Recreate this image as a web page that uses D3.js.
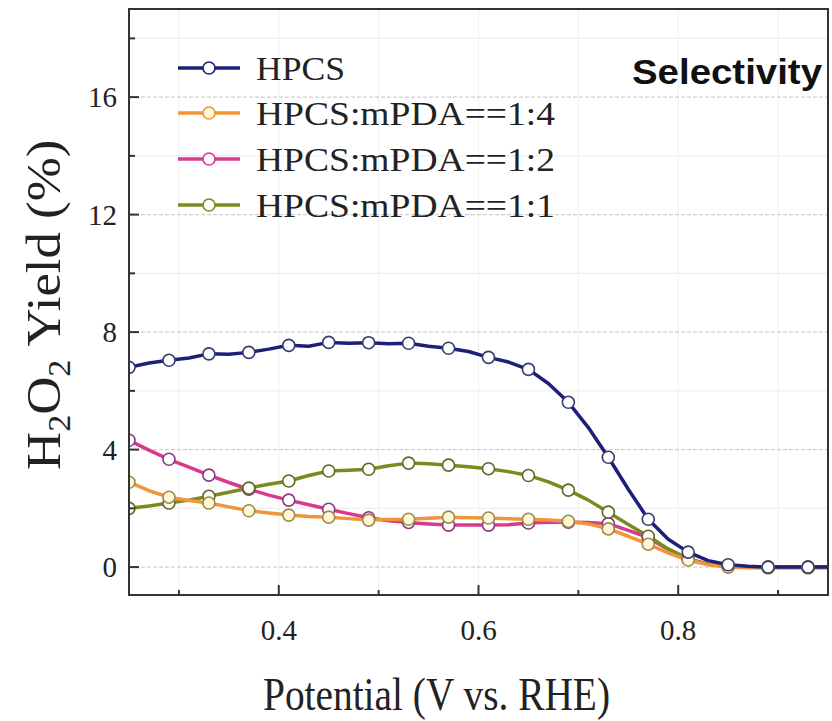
<!DOCTYPE html>
<html><head><meta charset="utf-8">
<script src="https://cdn.jsdelivr.net/npm/d3@7"></script>
<style>html,body{margin:0;padding:0;background:#fff;}svg{display:block;}</style>
</head><body>
<script>
// ---- data ----
const potential = [0.25,0.27,0.29,0.31,0.33,0.35,0.37,0.39,0.41,0.43,0.45,0.47,0.49,0.51,0.53,0.55,0.57,0.59,0.61,0.63,0.65,0.67,0.69,0.71,0.73,0.75,0.77,0.79,0.81,0.83,0.85,0.87,0.89,0.91,0.93,0.95];
const hpcs   = [6.80,6.95,7.04,7.12,7.26,7.25,7.31,7.42,7.55,7.52,7.65,7.62,7.64,7.60,7.62,7.52,7.45,7.34,7.14,6.98,6.73,6.25,5.61,4.75,3.74,2.65,1.63,0.95,0.51,0.22,0.08,0.03,0.00,0.00,0.00,0.00];
const r14    = [2.89,2.60,2.38,2.27,2.18,2.05,1.92,1.84,1.77,1.72,1.70,1.65,1.60,1.62,1.63,1.66,1.70,1.68,1.67,1.65,1.63,1.60,1.56,1.47,1.30,1.05,0.78,0.48,0.24,0.08,0.00,-0.02,-0.03,-0.03,-0.03,-0.03];
const r12    = [4.32,3.98,3.67,3.40,3.13,2.88,2.65,2.45,2.28,2.12,1.97,1.82,1.68,1.58,1.52,1.47,1.43,1.43,1.43,1.44,1.50,1.53,1.53,1.52,1.48,1.25,1.00,0.60,0.28,0.10,0.02,0.00,0.00,0.00,0.00,0.00];
const r11    = [2.00,2.08,2.18,2.28,2.41,2.55,2.69,2.82,2.93,3.12,3.27,3.30,3.33,3.45,3.54,3.52,3.47,3.42,3.35,3.25,3.12,2.90,2.62,2.28,1.87,1.45,1.05,0.62,0.28,0.10,0.03,0.00,0.00,0.00,0.00,0.00];
const seriesNames = ["HPCS","HPCS:mPDA==1:4","HPCS:mPDA==1:2","HPCS:mPDA==1:1"];
const yTicks = [0,4,8,12,16];
const xTicks = [0.4,0.6,0.8];
const xLabel = "Potential (V vs. RHE)";
const tag = "Selectivity";

// ---- styles ----
const styles = [
  {name:seriesNames[0], values:hpcs, color:"#1d1f78", mfill:"#ffffff", mstroke:"#3a3c70", tl:89},
  {name:seriesNames[1], values:r14,  color:"#f0963a", mfill:"#fff8d8", mstroke:"#a08a4a", tl:299},
  {name:seriesNames[2], values:r12,  color:"#d83a8c", mfill:"#ffffff", mstroke:"#8a3a80", tl:299},
  {name:seriesNames[3], values:r11,  color:"#7a8a1c", mfill:"#ffffff", mstroke:"#5d6a20", tl:299}
];
const drawOrder = [2,3,1,0];
const serif = "'Liberation Serif','Times New Roman',serif";

const W=832,H=721;
const svg = d3.select("body").append("svg").attr("width",W).attr("height",H);
const x = d3.scaleLinear().domain([0.25,0.95]).range([129,828]);
const y = d3.scaleLinear().domain([-0.95,19]).range([595,9]);

// grid
const g = svg.append("g");
g.selectAll(".gx").data(d3.range(0.3,0.95,0.1)).join("line")
  .attr("x1",d=>x(d)).attr("x2",d=>x(d)).attr("y1",y(19)).attr("y2",y(-0.95))
  .attr("stroke","#efefef").attr("stroke-width",1);
g.selectAll(".gy").data(d3.range(0,19,2)).join("line")
  .attr("x1",x(0.25)).attr("x2",x(0.95)).attr("y1",d=>y(d)).attr("y2",d=>y(d))
  .attr("stroke",d=>d%4===0?"#cfcfcf":"#efefef").attr("stroke-width",1.2)
  .attr("stroke-dasharray",d=>d%4===0?"4,2":null);

// lines
const line = d3.line().x((d,i)=>x(potential[i])).y(d=>y(d));
const defs = svg.append("defs");
defs.append("clipPath").attr("id","clip").append("rect")
  .attr("x",x(0.25)).attr("y",y(19)).attr("width",x(0.95)-x(0.25)).attr("height",y(-0.95)-y(19));
const plot = svg.append("g").attr("clip-path","url(#clip)");
drawOrder.forEach(k=>{
  const s=styles[k];
  plot.append("path").datum(s.values).attr("d",line)
    .attr("fill","none").attr("stroke",s.color).attr("stroke-width",3.5).attr("stroke-linejoin","round");
});
drawOrder.forEach(k=>{
  const s=styles[k];
  plot.selectAll(null).data(s.values.map((v,i)=>[potential[i],v]).filter((d,i)=>i%2===0 && i<35))
    .join("circle").attr("cx",d=>x(d[0])).attr("cy",d=>y(d[1])).attr("r",6)
    .attr("fill",s.mfill).attr("stroke",s.mstroke).attr("stroke-width",1.6);
});

// frame
const fc="#333";
svg.append("rect").attr("x",x(0.25)).attr("y",y(19)).attr("width",x(0.95)-x(0.25)).attr("height",y(-0.95)-y(19))
  .attr("fill","none").attr("stroke",fc).attr("stroke-width",2);

// y ticks
svg.selectAll(".yt").data(d3.range(0,19,2)).join("line")
  .attr("x1",x(0.25)).attr("x2",d=>x(0.25)+(d%4===0?10:6)).attr("y1",d=>y(d)).attr("y2",d=>y(d))
  .attr("stroke",fc).attr("stroke-width",2);
svg.selectAll(".yl").data(yTicks).join("text")
  .attr("x",117).attr("y",d=>y(d)).attr("dy","0.35em").attr("text-anchor","end")
  .attr("font-family",serif).attr("font-size",29)
  .attr("fill","#222").text(d=>d);
// x ticks
svg.selectAll(".xt").data(d3.range(0.3,0.95,0.1)).join("line")
  .attr("x1",d=>x(d)).attr("x2",d=>x(d)).attr("y1",y(-0.95)).attr("y2",(d,i)=>y(-0.95)-(i%2===1?10:5))
  .attr("stroke",fc).attr("stroke-width",2);
svg.selectAll(".xl").data(xTicks).join("text")
  .attr("x",d=>x(d)).attr("y",640).attr("text-anchor","middle")
  .attr("font-family",serif).attr("font-size",29)
  .attr("fill","#222").text(d=>d3.format(".1f")(d));

// axis titles
svg.append("text").attr("x",263).attr("y",710)
  .attr("textLength",347).attr("lengthAdjust","spacingAndGlyphs")
  .attr("font-family",serif).attr("font-size",46)
  .attr("fill","#222").text(xLabel);
const yt = svg.append("text").attr("transform","translate(60,470) rotate(-90) scale(1.1,1)")
  .attr("font-family",serif).attr("font-size",48).attr("fill","#222");
yt.append("tspan").text("H");
yt.append("tspan").attr("font-size",31).attr("dy",10).text("2");
yt.append("tspan").attr("dy",-10).text("O");
yt.append("tspan").attr("font-size",31).attr("dy",10).text("2");
yt.append("tspan").attr("dy",-10).text("\u00A0Yield\u00A0(%)");

// tag
svg.append("text").attr("x",632).attr("y",84)
  .attr("textLength",190).attr("lengthAdjust","spacingAndGlyphs")
  .attr("font-family","'Liberation Sans',Arial,sans-serif").attr("font-weight","bold").attr("font-size",35)
  .attr("fill","#111").text(tag);

// legend
const legRows=[68,113,159,205];
styles.forEach((s,i)=>{
  const lg=svg.append("g");
  lg.append("line").attr("x1",178).attr("x2",240).attr("y1",legRows[i]).attr("y2",legRows[i])
    .attr("stroke",s.color).attr("stroke-width",3.5);
  lg.append("circle").attr("cx",209).attr("cy",legRows[i]).attr("r",6)
    .attr("fill",i===1?"#fff8d8":"#fff").attr("stroke",s.color).attr("stroke-width",1.6);
  lg.append("text").attr("x",256).attr("y",legRows[i]).attr("dy","0.35em")
    .attr("textLength",s.tl).attr("lengthAdjust","spacingAndGlyphs")
    .attr("font-family",serif).attr("font-size",34)
    .attr("fill","#222").text(s.name);
});
</script>
</body></html>
